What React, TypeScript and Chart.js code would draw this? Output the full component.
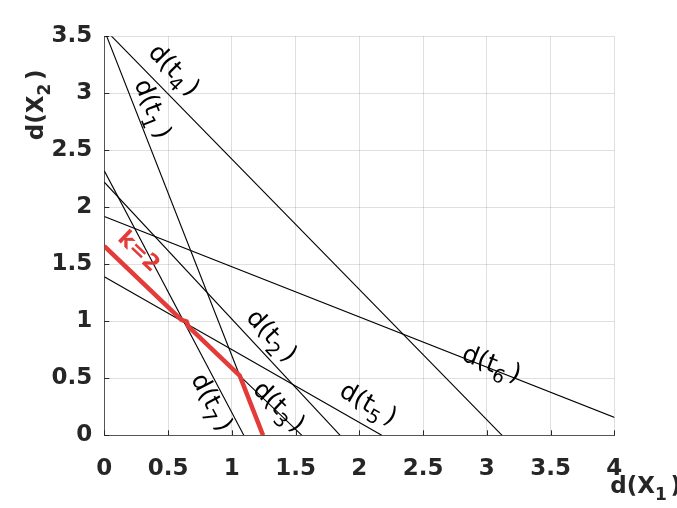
import React, { useEffect, useRef } from 'react';
import { Chart, registerables } from 'chart.js';

Chart.register(...registerables);

// ---- data ----
const lineNames = ['1', '2', '3', '4', '5', '6', '7'];
const lineXIntercepts = [1.245, 1.85, 1.55, 3.12, 2.176, 4.358, 1.094];
const lineYIntercepts = [3.554, 2.22, 1.66, 3.566, 1.39, 1.92, 2.32];
const labelX = [0.378, 1.313, 1.37, 0.547, 2.071, 3.038, 0.842];
const labelY = [2.862, 0.873, 0.251, 3.204, 0.275, 0.625, 0.288];

const kX = [0, 0.605, 0.645, 0.66, 1.062, 1.245];
const kY = [1.66, 1.012, 1.0, 0.953, 0.523, 0];
const kLabel = 'k=2';
const kLabelX = 0.265;
const kLabelY = 1.608;

const xTicks = [0, 0.5, 1, 1.5, 2, 2.5, 3, 3.5, 4];
const xTickLabels = ['0', '0.5', '1', '1.5', '2', '2.5', '3', '3.5', '4'];
const yTicks = [0, 0.5, 1, 1.5, 2, 2.5, 3, 3.5];
const yTickLabels = ['0', '0.5', '1', '1.5', '2', '2.5', '3', '3.5'];

const FONT = '"DejaVu Sans", "Liberation Sans", Arial, sans-serif';
const TEXT = '#262626';
const RED = '#e33a3a';

function drawSub(
  ctx: CanvasRenderingContext2D,
  pre: string,
  sub: string,
  post: string,
  cx: number,
  cy: number,
  ang: number,
  size: number,
  weight: string,
  color: string,
  align: 'center' | 'left'
) {
  ctx.save();
  ctx.translate(cx, cy);
  ctx.rotate(ang);
  const mainFont = `${weight} ${size}px ${FONT}`;
  const subFont = `${weight} ${Math.round(size * 0.75)}px ${FONT}`;
  ctx.font = mainFont;
  const wPre = ctx.measureText(pre).width;
  const wPost = ctx.measureText(post).width;
  ctx.font = subFont;
  const wSub = ctx.measureText(sub).width;
  const gap = size * 0.16;
  const total = wPre + wSub + gap + wPost;
  let sx = align === 'center' ? -total / 2 : 0;
  const base = align === 'center' ? size * 0.3 : 0;
  ctx.fillStyle = color;
  ctx.textBaseline = 'alphabetic';
  ctx.textAlign = 'left';
  ctx.font = mainFont;
  ctx.fillText(pre, sx, base);
  sx += wPre;
  ctx.font = subFont;
  ctx.fillText(sub, sx, base + size * 0.3);
  sx += wSub + gap;
  ctx.font = mainFont;
  ctx.fillText(post, sx, base);
  ctx.restore();
}

const tickPlugin = {
  id: 'inwardTicks',
  beforeDatasetsDraw(chart: any) {
    const { ctx, chartArea, scales } = chart;
    const x = scales.x;
    const y = scales.y;
    ctx.save();
    ctx.strokeStyle = TEXT;
    ctx.lineWidth = 1;
    ctx.beginPath();
    xTicks.forEach((v) => {
      const px = Math.round(x.getPixelForValue(v)) + 0.5;
      ctx.moveTo(px, chartArea.bottom);
      ctx.lineTo(px, chartArea.bottom - 5);
    });
    yTicks.forEach((v) => {
      const py = Math.round(y.getPixelForValue(v)) + 0.5;
      ctx.moveTo(chartArea.left, py);
      ctx.lineTo(chartArea.left + 5, py);
    });
    ctx.stroke();
    ctx.restore();
  },
};

const labelPlugin = {
  id: 'lineLabels',
  afterDatasetsDraw(chart: any) {
    const { ctx, chartArea, scales } = chart;
    const x = scales.x;
    const y = scales.y;
    lineNames.forEach((n, i) => {
      const x0 = x.getPixelForValue(0);
      const y0 = y.getPixelForValue(lineYIntercepts[i]);
      const x1 = x.getPixelForValue(lineXIntercepts[i]);
      const y1 = y.getPixelForValue(0);
      const ang = Math.atan2(y1 - y0, x1 - x0);
      drawSub(ctx, 'd(t', n, ')', x.getPixelForValue(labelX[i]), y.getPixelForValue(labelY[i]), ang, 25, '400', '#000', 'center');
    });
    // k label
    const ka = Math.atan2(
      y.getPixelForValue(kY[1]) - y.getPixelForValue(kY[0]),
      x.getPixelForValue(kX[1]) - x.getPixelForValue(kX[0])
    );
    ctx.save();
    ctx.translate(x.getPixelForValue(kLabelX), y.getPixelForValue(kLabelY));
    ctx.rotate(ka);
    ctx.font = `bold 22px ${FONT}`;
    ctx.fillStyle = RED;
    ctx.textAlign = 'center';
    ctx.textBaseline = 'middle';
    ctx.fillText(kLabel, 0, 0);
    ctx.restore();

    // axis titles
    drawSub(ctx, 'd(X', '1', ')', chartArea.right - 4, chartArea.bottom + 58, 0, 23, 'bold', TEXT, 'left');
    drawSub(ctx, 'd(X', '2', ')', chartArea.left - 61, chartArea.top + 104, -Math.PI / 2, 23, 'bold', TEXT, 'left');
  },
};

export default function App() {
  const ref = useRef<HTMLCanvasElement | null>(null);

  useEffect(() => {
    if (!ref.current) return;
    const datasets: any[] = [
      {
        label: kLabel,
        data: kX.map((v, i) => ({ x: v, y: kY[i] })),
        showLine: true,
        borderColor: RED,
        borderWidth: 4.5,
        pointRadius: 0,
        borderJoinStyle: 'round',
        borderCapStyle: 'butt',
        tension: 0,
      },
      ...lineNames.map((n, i) => ({
        label: 'd(t' + n + ')',
        data: [
          { x: 0, y: lineYIntercepts[i] },
          { x: lineXIntercepts[i], y: 0 },
        ],
        showLine: true,
        borderColor: '#000',
        borderWidth: 1.1,
        pointRadius: 0,
        tension: 0,
      })),
    ];

    const chart = new Chart(ref.current, {
      type: 'scatter',
      data: { datasets },
      options: {
        animation: false,
        responsive: true,
        maintainAspectRatio: false,
        devicePixelRatio: 1,
        layout: { padding: { left: 0, right: 62.7, top: 36.3, bottom: 0 } },
        plugins: { legend: { display: false }, tooltip: { enabled: false }, title: { display: false } },
        scales: {
          x: {
            type: 'linear',
            min: 0,
            max: 4,
            afterBuildTicks: (s: any) => {
              s.ticks = xTicks.map((v) => ({ value: v }));
            },
            afterFit: (s: any) => {
              s.height = 72.7;
            },
            grid: { color: 'rgba(38,38,38,0.15)', lineWidth: 1, drawTicks: false },
            border: { display: true, color: '#555', width: 1 },
            ticks: {
              autoSkip: false,
              maxRotation: 0,
              padding: 20,
              color: TEXT,
              font: { family: FONT, size: 23, weight: 'bold' },
              callback: (_v: any, idx: number) => xTickLabels[idx],
            },
          },
          y: {
            type: 'linear',
            min: 0,
            max: 3.5,
            afterBuildTicks: (s: any) => {
              s.ticks = yTicks.map((v) => ({ value: v }));
            },
            afterFit: (s: any) => {
              s.width = 104.3;
            },
            grid: { color: 'rgba(38,38,38,0.15)', lineWidth: 1, drawTicks: false },
            border: { display: true, color: '#555', width: 1 },
            ticks: {
              autoSkip: false,
              padding: 12,
              color: TEXT,
              font: { family: FONT, size: 23, weight: 'bold' },
              callback: (_v: any, idx: number) => yTickLabels[idx],
            },
          },
        },
      },
      plugins: [tickPlugin, labelPlugin],
    } as any);

    return () => chart.destroy();
  }, []);

  return (
    <div style={{ position: 'absolute', left: 0, top: 0, width: 677, height: 508, background: '#fff' }}>
      <canvas ref={ref} />
    </div>
  );
}
